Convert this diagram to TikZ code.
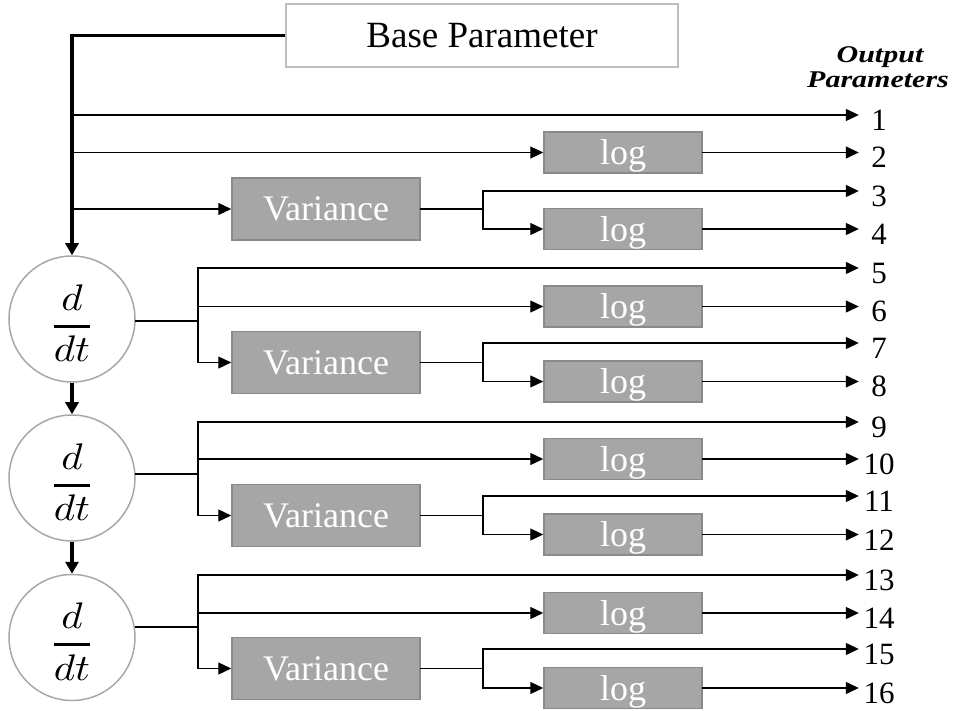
\documentclass[tikz,border=0pt]{standalone}
\usepackage{amsmath}
\usepackage{graphicx}
\usepackage{fontspec}
\setmainfont{Liberation Serif}
\usetikzlibrary{arrows.meta,positioning}
\definecolor{boxgray}{RGB}{166,166,166}
\definecolor{edgegray}{RGB}{138,138,138}
\definecolor{ringgray}{RGB}{168,168,168}
\definecolor{basegray}{RGB}{190,190,190}

\tikzset{
  basebox/.style={draw=basegray, line width=1.8pt, fill=white, minimum width=392pt, minimum height=63pt, inner sep=0pt, font=\fontsize{37}{40}\selectfont},
  opbox/.style={draw=edgegray, line width=1.5pt, fill=boxgray, text=white, inner sep=0pt, text depth=0pt, font=\fontsize{36}{40}\selectfont},
  logbox/.style={opbox, minimum width=158pt, minimum height=41pt},
  varbox/.style={opbox, minimum width=188pt, minimum height=62pt},
  ddt/.style={circle, draw=ringgray, line width=1.5pt, fill=white, minimum size=126pt, inner sep=0pt, text height=51pt, text depth=18pt},
  wire/.style={line width=1.3pt, line cap=rect},
  flow/.style={wire, -{Triangle[length=13pt,width=12pt]}},
  trunk/.style={line width=3.5pt, -{Triangle[length=12pt,width=13pt]}},
  outnum/.style={font=\fontsize{31}{34}\selectfont, inner sep=0pt, minimum width=40pt, text height=31pt, text depth=0pt},
  outhead/.style={font=\bfseries\itshape\fontsize{24}{27}\selectfont, inner sep=0pt, text height=16pt, text depth=0pt}
}
\newcommand{\ddtfrac}{\scalebox{4.1}[3.7]{$\genfrac{}{}{0.75pt}{0}{d}{dt}$}}

\begin{document}
\begin{tikzpicture}[x=1pt, y=-1pt]
  \useasboundingbox (0,0) rectangle (954,711);
  \node (base) [basebox] at (482,35.5) {Base Parameter};
  \node (headA) [outhead] at (880,55) {\scalebox{1.25}[1]{Output}};
  \node (headB) [outhead] at (878,80) {\scalebox{1.25}[1]{Parameters}};
  \foreach \Num/\Row in {1/115, 2/152.5, 3/191, 4/229, 5/268, 6/306.5, 7/343, 8/381.5, 9/422, 10/459, 11/496, 12/534.5, 13/575, 14/613, 15/649, 16/688} {
    \node (n\Num) [outnum] at (879,\Row) {\Num};
  }
  \node (d1) [ddt] at (72,319) {\ddtfrac};
  \node (d2) [ddt] at (72,478) {\ddtfrac};
  \node (d3) [ddt] at (72,637.5) {\ddtfrac};
  \draw [trunk] (base.west) -| (d1.north);
  \draw [trunk] (d1) -- (d2);
  \draw [trunk] (d2) -- (d3);

  \node (var0) [varbox] at (326,209) {Variance};
  \node (logb0) [logbox] at (623,152.5) {log};
  \node (logd0) [logbox] at (623,229) {log};
  \coordinate (fork0) at (483,209);
  \draw [flow] (72,115) -- (n1.west);
  \draw [flow] (72,152.5) -- (logb0.west);
  \draw [flow] (72,209) -- (var0.west);
  \draw [flow] (logb0.east) -- (n2.west);
  \draw [wire] (var0.east) -- (fork0);
  \draw [wire] (483,191) -- (483,229);
  \draw [flow] (483,191) -- (n3.west);
  \draw [flow] (483,229) -- (logd0.west);
  \draw [flow] (logd0.east) -- (n4.west);

  \foreach \Grp/\Top/\Mid/\Lb/\Vy/\Cy/\Ld/\First in {1/268/321/306.5/362.5/343/381.5/5, 2/422/474/459/515.5/496/534.5/9, 3/575/627/613/668.5/649/688/13} {
    \pgfmathtruncatemacro{\NB}{\First+1}
    \pgfmathtruncatemacro{\NC}{\First+2}
    \pgfmathtruncatemacro{\ND}{\First+3}
    \node (var\Grp) [varbox] at (326,\Vy) {Variance};
    \node (logb\Grp) [logbox] at (623,\Lb) {log};
    \node (logd\Grp) [logbox] at (623,\Ld) {log};
    \coordinate (spine\Grp) at (198,\Mid);
    \coordinate (fork\Grp) at (483,\Vy);
    \draw [wire] (spine\Grp -| d\Grp.east) -- (spine\Grp);
    \draw [wire] (198,\Top) -- (198,\Vy);
    \draw [flow] (198,\Top) -- (n\First.west);
    \draw [flow] (198,\Lb) -- (logb\Grp.west);
    \draw [flow] (198,\Vy) -- (var\Grp.west);
    \draw [flow] (logb\Grp.east) -- (n\NB.west);
    \draw [wire] (var\Grp.east) -- (fork\Grp);
    \draw [wire] (483,\Cy) -- (483,\Ld);
    \draw [flow] (483,\Cy) -- (n\NC.west);
    \draw [flow] (483,\Ld) -- (logd\Grp.west);
    \draw [flow] (logd\Grp.east) -- (n\ND.west);
  }
\end{tikzpicture}
\end{document}
